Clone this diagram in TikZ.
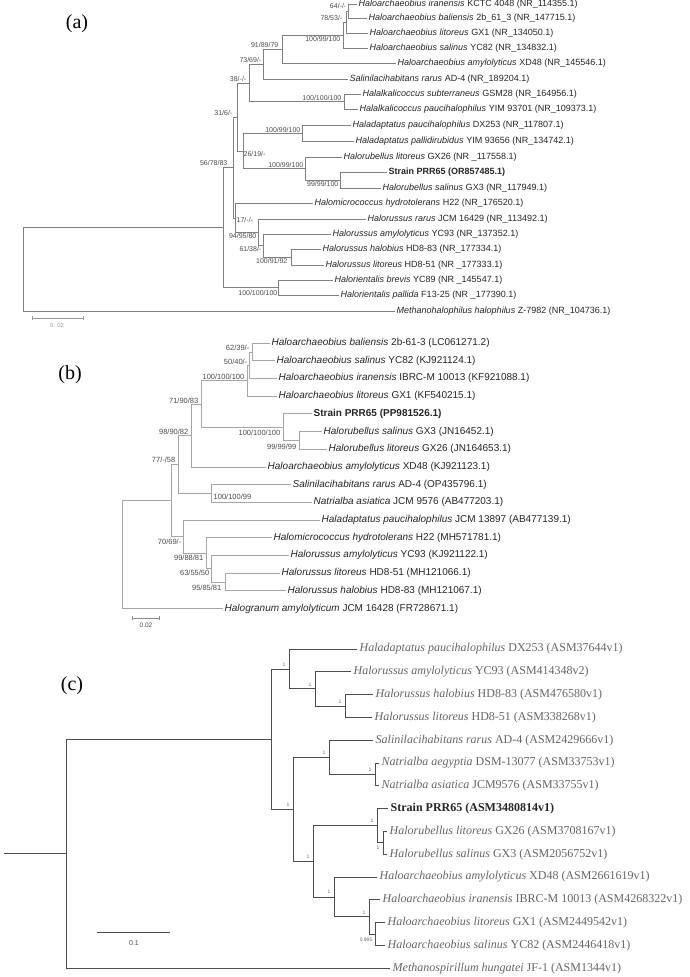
\documentclass[tikz,border=0pt]{standalone}
\usepackage{fontspec}
\setmainfont{Liberation Serif}
\setsansfont{Liberation Sans}
\usepackage{tikz}
\usetikzlibrary{arrows.meta}

\begin{document}
\begin{tikzpicture}[x=1pt, y=-1pt,
  panel/.style={font=\fontsize{20}{24}\rmfamily, inner sep=0pt},
  tipa/.style={anchor=west, inner sep=1.5pt, font=\fontsize{9}{10}\sffamily, text=black!85},
  tipb/.style={anchor=west, inner sep=1.5pt, font=\fontsize{10}{11}\sffamily, text=black!85},
  tipc/.style={anchor=west, inner sep=2.5pt, font=\fontsize{12}{13}\rmfamily, text=black!60},
  bsa/.style={inner sep=0.5pt, font=\fontsize{7}{8}\sffamily, text=black!70},
  bsb/.style={inner sep=0.5pt, font=\fontsize{7.5}{8}\sffamily, text=black!70},
  bsc/.style={inner sep=0.5pt, font=\fontsize{5}{6}\sffamily, text=black!60},
  bra/.style={draw=black!50, line width=0.7pt},
  brb/.style={draw=black!35, line width=0.7pt},
  brc/.style={draw=black!70, line width=0.9pt},
  bar/.style={{Bar[width=4pt]}-{Bar[width=4pt]}, line width=0.6pt}]
\fill[white] (0,0) rectangle (689,977);
\useasboundingbox (0,0) rectangle (689,977);

% (a) 16S rRNA tree
\node[panel] (pa) at (77,24) {(a)};
\node[tipa] (a01) at (357,4) {\textit{Haloarchaeobius iranensis} KCTC 4048 (NR\_114355.1)};
\node[tipa] (a02) at (367,18.5) {\textit{Haloarchaeobius baliensis} 2b\_61\_3 (NR\_147715.1)};
\node[tipa] (a03) at (368,33.5) {\textit{Haloarchaeobius litoreus} GX1 (NR\_134050.1)};
\node[tipa] (a04) at (368,48.5) {\textit{Haloarchaeobius salinus} YC82 (NR\_134832.1)};
\node[tipa] (a05) at (396,63.5) {\textit{Haloarchaeobius amylolyticus} XD48 (NR\_145546.1)};
\node[tipa] (a06) at (348,79) {\textit{Salinilacihabitans rarus} AD-4 (NR\_189204.1)};
\node[tipa] (a07) at (361,94) {\textit{Halalkalicoccus subterraneus} GSM28 (NR\_164956.1)};
\node[tipa] (a08) at (358,109.5) {\textit{Halalkalicoccus paucihalophilus} YIM 93701 (NR\_109373.1)};
\node[tipa] (a09) at (351,125.5) {\textit{Haladaptatus paucihalophilus} DX253 (NR\_117807.1)};
\node[tipa] (a10) at (354,141.5) {\textit{Haladaptatus pallidirubidus} YIM 93656 (NR\_134742.1)};
\node[tipa] (a11) at (342,157) {\textit{Halorubellus litoreus} GX26 (NR \_117558.1)};
\node[tipa] (a12) at (387,172.5) {\textbf{Strain PRR65 (OR857485.1)}};
\node[tipa] (a13) at (381,188.5) {\textit{Halorubellus salinus} GX3 (NR\_117949.1)};
\node[tipa] (a14) at (313,203.5) {\textit{Halomicrococcus hydrotolerans} H22 (NR\_176520.1)};
\node[tipa] (a15) at (366,219) {\textit{Halorussus rarus} JCM 16429 (NR\_113492.1)};
\node[tipa] (a16) at (331,234) {\textit{Halorussus amylolyticus} YC93 (NR\_137352.1)};
\node[tipa] (a17) at (321,249.5) {\textit{Halorussus halobius} HD8-83 (NR\_177334.1)};
\node[tipa] (a18) at (324,265) {\textit{Halorussus litoreus} HD8-51 (NR \_177333.1)};
\node[tipa] (a19) at (333,280) {\textit{Halorientalis brevis} YC89 (NR \_145547.1)};
\node[tipa] (a20) at (339,295.5) {\textit{Halorientalis pallida} F13-25 (NR \_177390.1)};
\node[tipa] (a21) at (395,311) {\textit{Methanohalophilus halophilus} Z-7982 (NR\_104736.1)};
\coordinate (an1) at (348,11.25);
\coordinate (an2) at (346,22.4);
\coordinate (an3) at (343,35.4);
\coordinate (an4) at (282,49.5);
\coordinate (an5) at (263,64.2);
\coordinate (an6) at (344,101.75);
\coordinate (an7) at (249,83);
\coordinate (an8) at (302,133.5);
\coordinate (an9) at (340,180.5);
\coordinate (an10) at (305,168.75);
\coordinate (an11) at (243,151.1);
\coordinate (an12) at (237,117);
\coordinate (an13) at (291,257.25);
\coordinate (an14) at (263,245.6);
\coordinate (an15) at (258,232.3);
\coordinate (an16) at (235,217.9);
\coordinate (an17) at (233,167.5);
\coordinate (an18) at (278,287.75);
\coordinate (an19) at (223,227.6);
\coordinate (aroot) at (23,269.3);
\draw[bra] (an1) |- (a01) (an1) |- (a02);
\draw[bra] (an2) |- (an1) (an2) |- (a03);
\draw[bra] (an3) |- (an2) (an3) |- (a04);
\draw[bra] (an4) |- (an3) (an4) |- (a05);
\draw[bra] (an5) |- (an4) (an5) |- (a06);
\draw[bra] (an6) |- (a07) (an6) |- (a08);
\draw[bra] (an7) |- (an5) (an7) |- (an6);
\draw[bra] (an8) |- (a09) (an8) |- (a10);
\draw[bra] (an9) |- (a12) (an9) |- (a13);
\draw[bra] (an10) |- (a11) (an10) |- (an9);
\draw[bra] (an11) |- (an8) (an11) |- (an10);
\draw[bra] (an12) |- (an7) (an12) |- (an11);
\draw[bra] (an13) |- (a17) (an13) |- (a18);
\draw[bra] (an14) |- (a16) (an14) |- (an13);
\draw[bra] (an15) |- (a15) (an15) |- (an14);
\draw[bra] (an16) |- (a14) (an16) |- (an15);
\draw[bra] (an17) |- (an12) (an17) |- (an16);
\draw[bra] (an18) |- (a19) (an18) |- (a20);
\draw[bra] (an19) |- (an17) (an19) |- (an18);
\draw[bra] (aroot) |- (an19) (aroot) |- (a21);
\node[bsa, anchor=east] (la1) at (347,6) {64/-/-};
\node[bsa, anchor=east] (la2) at (343,18) {78/53/-};
\node[bsa, anchor=east] (la3) at (341,38.5) {100/99/100};
\node[bsa, anchor=east] (la4) at (279,45) {91/89/79};
\node[bsa, anchor=east] (la5) at (262,60) {73/69/-};
\node[bsa, anchor=east] (la6) at (247,79) {38/-/-};
\node[bsa, anchor=east] (la7) at (342,98) {100/100/100};
\node[bsa, anchor=east] (la8) at (233,113) {31/6/-};
\node[bsa, anchor=east] (la9) at (301,130) {100/99/100};
\node[bsa, anchor=west] (la10) at (243,154) {26/19/-};
\node[bsa, anchor=east] (la11) at (304,165) {100/99/100};
\node[bsa, anchor=east] (la12) at (339,184) {99/99/100};
\node[bsa, anchor=east] (la13) at (228,163) {56/78/83};
\node[bsa, anchor=west] (la14) at (236,220) {17/-/-};
\node[bsa, anchor=east] (la15) at (257,236) {94/95/80};
\node[bsa, anchor=east] (la16) at (262,249) {61/38/-};
\node[bsa, anchor=east] (la17) at (288,261) {100/91/92};
\node[bsa, anchor=east] (la18) at (278,293) {100/100/100};
\coordinate (sa1) at (32,318);
\coordinate (sa2) at (84,318);
\draw[bar, black!40] (sa1) -- (sa2);
\node[bsa, text=black!40, font=\fontsize{6}{7}\sffamily] (sa) at (57,325.5) {0. 02};

% (b) 16S rRNA tree
\node[panel] (pb) at (70,375) {(b)};
\node[tipb] (b01) at (270,343) {\textit{Haloarchaeobius baliensis} 2b-61-3 (LC061271.2)};
\node[tipb] (b02) at (275,360.7) {\textit{Haloarchaeobius salinus} YC82 (KJ921124.1)};
\node[tipb] (b03) at (277,378.4) {\textit{Haloarchaeobius iranensis} IBRC-M 10013 (KF921088.1)};
\node[tipb] (b04) at (277,396.1) {\textit{Haloarchaeobius litoreus} GX1 (KF540215.1)};
\node[tipb] (b05) at (312,413.8) {\textbf{Strain PRR65 (PP981526.1)}};
\node[tipb] (b06) at (322,431.5) {\textit{Halorubellus salinus} GX3 (JN16452.1)};
\node[tipb] (b07) at (327,449.2) {\textit{Halorubellus litoreus} GX26 (JN164653.1)};
\node[tipb] (b08) at (266,466.9) {\textit{Haloarchaeobius amylolyticus} XD48 (KJ921123.1)};
\node[tipb] (b09) at (291,484.6) {\textit{Salinilacihabitans rarus} AD-4 (OP435796.1)};
\node[tipb] (b10) at (312,502.3) {\textit{Natrialba asiatica} JCM 9576 (AB477203.1)};
\node[tipb] (b11) at (320,520) {\textit{Haladaptatus paucihalophilus} JCM 13897 (AB477139.1)};
\node[tipb] (b12) at (272,537.7) {\textit{Halomicrococcus hydrotolerans} H22 (MH571781.1)};
\node[tipb] (b13) at (289,555.4) {\textit{Halorussus amylolyticus} YC93 (KJ921122.1)};
\node[tipb] (b14) at (280,573.1) {\textit{Halorussus litoreus} HD8-51 (MH121066.1)};
\node[tipb] (b15) at (286,590.8) {\textit{Halorussus halobius} HD8-83 (MH121067.1)};
\node[tipb] (b16) at (223,608.5) {\textit{Halogranum amylolyticum} JCM 16428 (FR728671.1)};
\coordinate (bn1) at (252,351.9);
\coordinate (bn2) at (249,365.1);
\coordinate (bn3) at (247,380.6);
\coordinate (bn4) at (299,440.4);
\coordinate (bn5) at (283,427.1);
\coordinate (bn6) at (201,403.9);
\coordinate (bn7) at (191,435.4);
\coordinate (bn8) at (211,493.5);
\coordinate (bn9) at (178,464.4);
\coordinate (bn10) at (225,582);
\coordinate (bn11) at (211,568.7);
\coordinate (bn12) at (206,553.2);
\coordinate (bn13) at (183,536.6);
\coordinate (bn14) at (171,500.5);
\coordinate (broot) at (122,554.5);
\draw[brb] (bn1) |- (b01) (bn1) |- (b02);
\draw[brb] (bn2) |- (bn1) (bn2) |- (b03);
\draw[brb] (bn3) |- (bn2) (bn3) |- (b04);
\draw[brb] (bn4) |- (b06) (bn4) |- (b07);
\draw[brb] (bn5) |- (b05) (bn5) |- (bn4);
\draw[brb] (bn6) |- (bn3) (bn6) |- (bn5);
\draw[brb] (bn7) |- (bn6) (bn7) |- (b08);
\draw[brb] (bn8) |- (b09) (bn8) |- (b10);
\draw[brb] (bn9) |- (bn7) (bn9) |- (bn8);
\draw[brb] (bn10) |- (b14) (bn10) |- (b15);
\draw[brb] (bn11) |- (b13) (bn11) |- (bn10);
\draw[brb] (bn12) |- (b12) (bn12) |- (bn11);
\draw[brb] (bn13) |- (b11) (bn13) |- (bn12);
\draw[brb] (bn14) |- (bn9) (bn14) |- (bn13);
\draw[brb] (broot) |- (bn14) (broot) |- (b16);
\node[bsb, anchor=east] (lb1) at (250,348) {62/39/-};
\node[bsb, anchor=east] (lb2) at (248,362) {50/40/-};
\node[bsb, anchor=east] (lb3) at (245,377) {100/100/100};
\node[bsb, anchor=east] (lb4) at (199,401) {71/90/83};
\node[bsb, anchor=east] (lb5) at (281,433) {100/100/100};
\node[bsb, anchor=east] (lb6) at (297,447) {99/99/99};
\node[bsb, anchor=east] (lb7) at (189,432) {98/90/82};
\node[bsb, anchor=east] (lb8) at (176,460) {77/-/58};
\node[bsb, anchor=west] (lb9) at (213,497) {100/100/99};
\node[bsb, anchor=east] (lb10) at (182,542) {70/69/-};
\node[bsb, anchor=east] (lb11) at (204,558) {99/88/81};
\node[bsb, anchor=east] (lb12) at (210,573) {63/55/50};
\node[bsb, anchor=east] (lb13) at (222,588) {95/85/81};
\coordinate (sb1) at (132,618);
\coordinate (sb2) at (160,618);
\draw[bar, black!45] (sb1) -- (sb2);
\node[bsb, font=\fontsize{6.5}{7}\sffamily] (sb) at (146,625.5) {0.02};

% (c) genome tree
\node[panel] (pc) at (72,686) {(c)};
\node[tipc] (c01) at (357,649) {\textit{Haladaptatus paucihalophilus} DX253 (ASM37644v1)};
\node[tipc] (c02) at (351,671.8) {\textit{Halorussus amylolyticus} YC93 (ASM414348v2)};
\node[tipc] (c03) at (373,694.6) {\textit{Halorussus halobius} HD8-83 (ASM476580v1)};
\node[tipc] (c04) at (372,717.4) {\textit{Halorussus litoreus} HD8-51 (ASM338268v1)};
\node[tipc] (c05) at (373,740.2) {\textit{Salinilacihabitans rarus} AD-4 (ASM2429666v1)};
\node[tipc] (c06) at (379,763) {\textit{Natrialba aegyptia} DSM-13077 (ASM33753v1)};
\node[tipc] (c07) at (379,785.8) {\textit{Natrialba asiatica} JCM9576 (ASM33755v1)};
\node[tipc, text=black!85] (c08) at (388,808.6) {\textbf{Strain PRR65 (ASM3480814v1)}};
\node[tipc] (c09) at (387,831.4) {\textit{Halorubellus litoreus} GX26 (ASM3708167v1)};
\node[tipc] (c10) at (387,854.2) {\textit{Halorubellus salinus} GX3 (ASM2056752v1)};
\node[tipc] (c11) at (377,877) {\textit{Haloarchaeobius amylolyticus} XD48 (ASM2661619v1)};
\node[tipc] (c12) at (380,899.8) {\textit{Haloarchaeobius iranensis} IBRC-M 10013 (ASM4268322v1)};
\node[tipc] (c13) at (385,922.6) {\textit{Haloarchaeobius litoreus} GX1 (ASM2449542v1)};
\node[tipc] (c14) at (385,945.4) {\textit{Haloarchaeobius salinus} YC82 (ASM2446418v1)};
\node[tipc] (c15) at (390,968.2) {\textit{Methanospirillum hungatei} JF-1 (ASM1344v1)};
\coordinate (cn1) at (345,706);
\coordinate (cn2) at (315,688.9);
\coordinate (cn3) at (289,669);
\coordinate (cn4) at (375,774.4);
\coordinate (cn5) at (329,757.3);
\coordinate (cn6) at (383,842.8);
\coordinate (cn7) at (377,825.7);
\coordinate (cn8) at (375,934);
\coordinate (cn9) at (369,916.9);
\coordinate (cn10) at (334,897);
\coordinate (cn11) at (313,861.3);
\coordinate (cn12) at (293,809.3);
\coordinate (cn13) at (271,739.2);
\coordinate (croot) at (66,853.7);
\coordinate (cstub) at (4,853.7);
\draw[brc] (cn1) |- (c03) (cn1) |- (c04);
\draw[brc] (cn2) |- (c02) (cn2) |- (cn1);
\draw[brc] (cn3) |- (c01) (cn3) |- (cn2);
\draw[brc] (cn4) |- (c06) (cn4) |- (c07);
\draw[brc] (cn5) |- (c05) (cn5) |- (cn4);
\draw[brc] (cn6) |- (c09) (cn6) |- (c10);
\draw[brc] (cn7) |- (c08) (cn7) |- (cn6);
\draw[brc] (cn8) |- (c13) (cn8) |- (c14);
\draw[brc] (cn9) |- (c12) (cn9) |- (cn8);
\draw[brc] (cn10) |- (c11) (cn10) |- (cn9);
\draw[brc] (cn11) |- (cn7) (cn11) |- (cn10);
\draw[brc] (cn12) |- (cn5) (cn12) |- (cn11);
\draw[brc] (cn13) |- (cn3) (cn13) |- (cn12);
\draw[brc] (croot) |- (cn13) (croot) |- (c15);
\draw[brc] (cstub) -- (croot);
\node[bsc, anchor=east] (lc1) at (286,665) {1};
\node[bsc, anchor=east] (lc2) at (312,685) {1};
\node[bsc, anchor=east] (lc3) at (342,702) {1};
\node[bsc, anchor=east] (lc4) at (326,753) {1};
\node[bsc, anchor=east] (lc5) at (372,770) {1};
\node[bsc, anchor=east] (lc6) at (290,805) {1};
\node[bsc, anchor=east] (lc7) at (374,821) {1};
\node[bsc, anchor=east] (lc8) at (380,848) {1};
\node[bsc, anchor=east] (lc9) at (310,857) {1};
\node[bsc, anchor=east] (lc10) at (331,892) {1};
\node[bsc, anchor=east] (lc11) at (366,913) {1};
\node[bsc, anchor=east] (lc12) at (373,940) {0.995};
\coordinate (sc1) at (97,932);
\coordinate (sc2) at (170,932);
\draw[brc] (sc1) -- (sc2);
\node[bsc, font=\fontsize{7}{8}\sffamily, text=black!70] (sc) at (134,943) {0.1};
\end{tikzpicture}
\end{document}
